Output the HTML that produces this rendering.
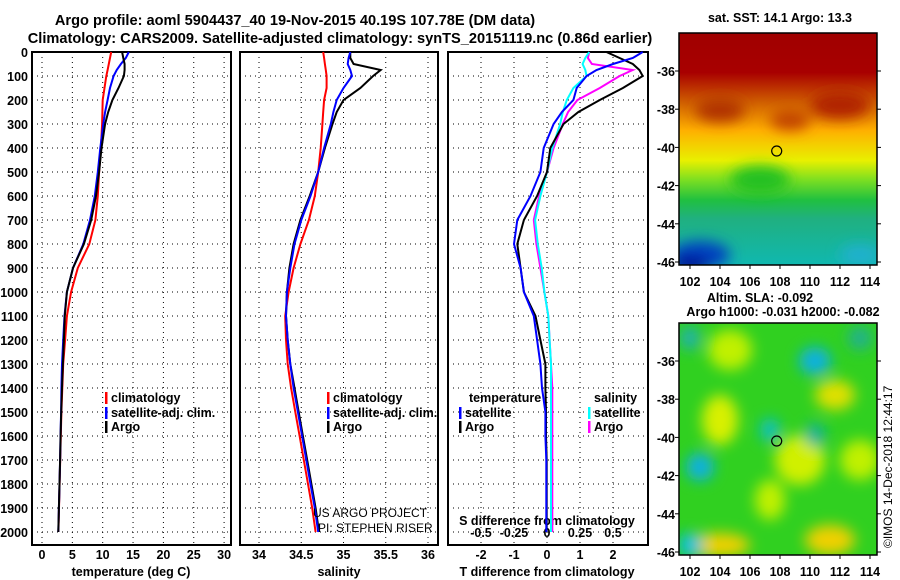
<!DOCTYPE html>
<html><head><meta charset="utf-8"><style>
body{margin:0;background:#fff;}
svg{display:block;font-family:"Liberation Sans",sans-serif;}
.b{font-weight:bold;font-size:12.5px;}
.t{font-weight:bold;font-size:14.6px;}
</style></head><body>
<svg id="c" width="900" height="580" viewBox="0 0 900 580">
<text class="t" x="295" y="25" text-anchor="middle">Argo profile: aoml 5904437_40 19-Nov-2015 40.19S 107.78E (DM data)</text>
<text class="t" x="340" y="43" text-anchor="middle">Climatology: CARS2009. Satellite-adjusted climatology: synTS_20151119.nc (0.86d earlier)</text>
<defs>
<linearGradient id="sst" x1="0" y1="0" x2="0" y2="1">
<stop offset="0" stop-color="#a00000"/><stop offset="0.17" stop-color="#a80000"/>
<stop offset="0.3" stop-color="#d06000"/><stop offset="0.42" stop-color="#ffb000"/>
<stop offset="0.55" stop-color="#e8f000"/><stop offset="0.63" stop-color="#80e020"/>
<stop offset="0.72" stop-color="#20c040"/><stop offset="0.8" stop-color="#20b080"/>
<stop offset="1" stop-color="#10b8b0"/></linearGradient>
<filter id="bl"><feGaussianBlur stdDeviation="7"/></filter>
<clipPath id="cm1"><rect x="679" y="33" width="198" height="232"/></clipPath>
<clipPath id="cm2"><rect x="679" y="323" width="198" height="232"/></clipPath>
</defs>
<g id="maps"></g>
<g id="panels"></g>
<text x="0" y="0" transform="translate(892,548) rotate(-90)" style="font-size:12px">©IMOS 14-Dec-2018 12:44:17</text>
</svg>
<script>
const depths=[0,25,50,75,100,150,200,250,300,400,500,600,700,800,900,1000,1100,1200,1300,1400,1500,1600,1700,1800,1900,2000];
const tClim=[11.4,11.2,11.0,10.8,10.6,10.3,10.0,9.95,9.9,9.7,9.4,9.2,8.8,7.8,5.9,4.8,4.1,3.8,3.5,3.35,3.2,3.1,3.0,2.9,2.8,2.7];
const tSat=[14.3,13.8,13.0,12.3,11.8,11.2,10.8,10.4,10.1,9.6,9.2,8.7,7.9,6.8,5.1,4.1,3.7,3.5,3.3,3.2,3.15,3.05,2.98,2.88,2.78,2.68];
const tArgo=[13.2,13.4,13.6,13.6,13.5,12.6,11.6,10.9,10.4,9.8,9.4,8.9,8.1,6.9,5.1,4.1,3.75,3.6,3.45,3.3,3.17,3.07,2.99,2.89,2.79,2.69];
const sClim=[34.76,34.77,34.78,34.79,34.80,34.80,34.77,34.76,34.75,34.73,34.70,34.66,34.59,34.49,34.41,34.35,34.31,34.32,34.34,34.38,34.43,34.48,34.53,34.58,34.63,34.67];
const sSat=[35.08,35.06,35.05,35.08,35.10,35.0,34.92,34.88,34.85,34.77,34.70,34.61,34.50,34.42,34.37,34.33,34.32,34.34,34.37,34.41,34.46,34.51,34.56,34.61,34.66,34.70];
const sArgo=[35.08,35.08,35.12,35.44,35.35,35.2,35.0,34.92,34.87,34.78,34.70,34.6,34.49,34.41,34.36,34.33,34.32,34.34,34.37,34.42,34.47,34.52,34.57,34.62,34.67,34.71];
const depthTicks=[0,100,200,300,400,500,600,700,800,900,1000,1100,1200,1300,1400,1500,1600,1700,1800,1900,2000];
const tTicks=[0,5,10,15,20,25,30];
const sTicks=[34,34.5,35,35.5,36];
const dtTicks=[-2,-1,0,1,2];
const dsTicks=[-0.5,-0.25,0,0.25,0.5];
const dsTickLabels=["-0.5","-0.25","0","0.25","0.5"];
const lonTicks=[102,104,106,108,110,112,114];
const latTicks=[-36,-38,-40,-42,-44,-46];
const floatLon=107.78, floatLat=-40.19;

const NS="http://www.w3.org/2000/svg";
function mk(tag,attrs,parent,txt){const e=document.createElementNS(NS,tag);for(const k in attrs)e.setAttribute(k,attrs[k]);if(txt!==undefined)e.textContent=txt;parent.appendChild(e);return e;}
const P=document.getElementById('panels');
const yD=d=>52+d*0.24;
const PB=545;
const panels=[
 {x0:32,x1:231,f:v=>42+v*6.07},
 {x0:240,x1:438,f:v=>259+(v-34)*84.5},
 {x0:448,x1:648,f:v=>547+v*33},
];
const fS=v=>547+v*132;
function grid(p,ticks){
 ticks.forEach(v=>{const l=mk('line',{x1:p.f(v),x2:p.f(v),y1:52,y2:PB,stroke:'#000','stroke-width':1,'stroke-dasharray':'1 4'},P);});
 depthTicks.forEach(d=>{const l=mk('line',{x1:p.x0,x2:p.x1,y1:yD(d),y2:yD(d),stroke:'#000','stroke-width':1,'stroke-dasharray':'1 4'},P);});
}
grid(panels[0],tTicks);grid(panels[1],sTicks);grid(panels[2],dtTicks);
panels.forEach((p,i)=>{const r=mk('rect',{x:p.x0,y:52,width:p.x1-p.x0,height:PB-52,fill:'none',stroke:'#000','stroke-width':2},P);});
depthTicks.forEach(d=>{const t=mk('text',{x:28,y:yD(d)+5,'text-anchor':'end',class:'b'},P,String(d));});
function xlabels(p,ticks,labels){ticks.forEach((v,i)=>{const t=mk('text',{x:p.f(v),y:559,'text-anchor':'middle',class:'b'},P,labels?labels[i]:String(v));});}
xlabels(panels[0],tTicks);xlabels(panels[1],sTicks);xlabels(panels[2],dtTicks);
dsTicks.forEach((v,i)=>{const t=mk('text',{x:fS(v),y:537,'text-anchor':'middle',class:'b'},P,dsTickLabels[i]);});
[[131,'temperature (deg C)','temperature-axis-title'],[339,'salinity','salinity-axis-title'],[547,'T difference from climatology','t-diff-axis-title']].forEach(a=>{const t=mk('text',{x:a[0],y:576,'text-anchor':'middle',class:'b'},P,a[1]);});
{const t=mk('text',{x:547,y:525,'text-anchor':'middle',class:'b'},P,'S difference from climatology');}
function line(vals,fx,color,name){const pts=depths.map((d,i)=>fx(vals[i]).toFixed(1)+','+yD(d).toFixed(1)).join(' ');const l=mk('polyline',{points:pts,fill:'none',stroke:color,'stroke-width':2},P);}
line(tClim,panels[0].f,'#f00','temp-climatology-line');
line(tSat,panels[0].f,'#00f','temp-satellite-line');
line(tArgo,panels[0].f,'#000','temp-argo-line');
line(sClim,panels[1].f,'#f00','sal-climatology-line');
line(sArgo,panels[1].f,'#000','sal-argo-line');
line(sSat,panels[1].f,'#00f','sal-satellite-line');
const dTs=tSat.map((v,i)=>v-tClim[i]),dTa=tArgo.map((v,i)=>v-tClim[i]);
const dSs=sSat.map((v,i)=>v-sClim[i]),dSa=sArgo.map((v,i)=>v-sClim[i]);
line(dSa,fS,'#f0f','sdiff-argo-line');
line(dSs,fS,'#0ff','sdiff-satellite-line');
line(dTa,panels[2].f,'#000','tdiff-argo-line');
line(dTs,panels[2].f,'#00f','tdiff-satellite-line');
function leg(x,y,color,txt,name){const r=mk('rect',{x:x,y:y-10,width:2.5,height:12,fill:color},P);const t=mk('text',{x:x+6,y:y,class:'b'},P,txt);}
leg(105,402,'#f00','climatology','legend-climatology');leg(105,417,'#00f','satellite-adj. clim.','legend-satellite');leg(105,431,'#000','Argo','legend-argo');
leg(327,402,'#f00','climatology','legend-sal-climatology');leg(327,417,'#00f','satellite-adj. clim.','legend-sal-satellite');leg(327,431,'#000','Argo','legend-sal-argo');
{const t=mk('text',{x:469,y:402,class:'b'},P,'temperature');
const u=mk('text',{x:594,y:402,class:'b'},P,'salinity');}
leg(459,417,'#00f','satellite','legend-t-satellite');leg(459,431,'#000','Argo','legend-t-argo');
leg(588,417,'#0ff','satellite','legend-s-satellite');leg(588,431,'#f0f','Argo','legend-s-argo');
{const t=mk('text',{x:313,y:517,style:'font-size:12px'},P,'US ARGO PROJECT');
const u=mk('text',{x:318,y:532,style:'font-size:12px'},P,'PI: STEPHEN RISER');}

const M=document.getElementById('maps');
const lonX=l=>690+(l-102)*15;
function mapFrame(top,clip,name,lat0){
 const g=mk('g',{'clip-path':'url(#'+clip+')'},M);
 
 const latY=l=>lat0+(-36-l)*19.1;
 return {g,latY,top};
}
const m1=mapFrame(33,'cm1','sst-map',71);
mk('rect',{x:679,y:33,width:198,height:232,fill:'url(#sst)'},m1.g);
const g1=mk('g',{filter:'url(#bl)'},m1.g);
[[720,110,25,12,'#b03000'],[840,105,30,14,'#b02000'],[760,180,30,14,'#20c020'],[700,255,30,14,'#0040c0'],[690,265,20,8,'#000090'],[860,255,20,10,'#20b0d0'],[790,120,20,10,'#c04000']].forEach(b=>mk('ellipse',{cx:b[0],cy:b[1],rx:b[2],ry:b[3],fill:b[4]},g1));
const m2=mapFrame(323,'cm2','sla-map',361);
mk('rect',{x:679,y:323,width:198,height:232,fill:'#30d020'},m2.g);
const g2=mk('g',{filter:'url(#bl)'},m2.g);
[[730,350,22,20,'#c0f000'],[720,420,18,25,'#d8f000'],[800,460,25,25,'#d0f000'],[835,395,20,15,'#e0e000'],[720,545,30,12,'#f0d000'],[830,540,25,15,'#f0d000'],[860,460,20,20,'#c0f000'],[770,500,15,20,'#c0f000'],
 [815,361,16,14,'#10b0e0'],[770,430,10,12,'#10c0c0'],[815,435,10,12,'#10b0a0'],[700,467,14,14,'#10b0e0'],[690,545,12,12,'#10c0e0'],[690,338,10,12,'#20b0b0'],[860,338,12,12,'#20b090']].forEach(b=>mk('ellipse',{cx:b[0],cy:b[1],rx:b[2],ry:b[3],fill:b[4]},g2));
[m1,m2].forEach((m,k)=>{
 const r=mk('rect',{x:679,y:m.top,width:198,height:232,fill:'none',stroke:'#000','stroke-width':1.5},M);
 lonTicks.forEach(l=>{mk('line',{x1:lonX(l),x2:lonX(l),y1:m.top+232,y2:m.top+236,stroke:'#000'},M);
  const t=mk('text',{x:lonX(l),y:m.top+253,'text-anchor':'middle',class:'b'},M,String(l));});
 latTicks.forEach(l=>{mk('line',{x1:675,x2:679,y1:m.latY(l),y2:m.latY(l),stroke:'#000'},M);mk('line',{x1:877,x2:881,y1:m.latY(l),y2:m.latY(l),stroke:'#000'},M);
  const t=mk('text',{x:675,y:m.latY(l)+5,'text-anchor':'end',class:'b'},M,String(l));});
 const c=mk('circle',{cx:lonX(floatLon),cy:m.latY(floatLat),r:5,fill:'none',stroke:'#000','stroke-width':1.2},M);
});
[[780,22,'sat. SST: 14.1 Argo: 13.3','sst-map-title'],[760,302,'Altim. SLA: -0.092','sla-map-title'],[783,316,'Argo h1000: -0.031 h2000: -0.082','sla-map-subtitle']].forEach(a=>{const t=mk('text',{x:a[0],y:a[1],'text-anchor':'middle',class:'b'},M,a[2]);});
</script>
</body></html>
